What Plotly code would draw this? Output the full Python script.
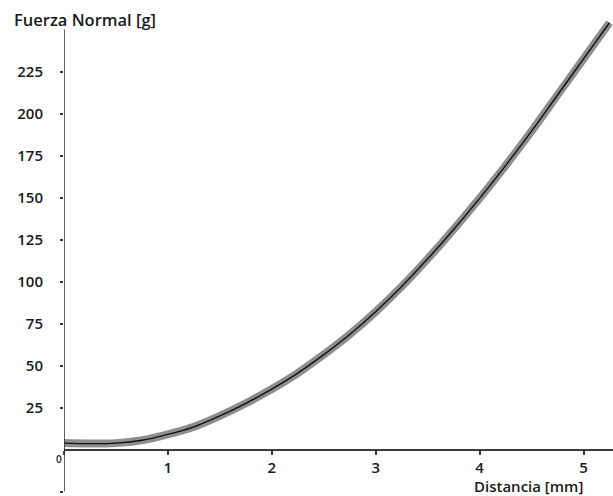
import plotly.graph_objects as go

# Data (Distancia [mm] vs Fuerza Normal [g])
distancia_mm = [0.0, 0.25, 0.5, 0.75, 1.0, 1.25, 1.5, 1.75, 2.0, 2.25, 2.5, 2.75,
                3.0, 3.25, 3.5, 3.75, 4.0, 4.25, 4.5, 4.75, 5.0, 5.25]
fuerza_g = [3.8, 3.5, 3.8, 5.5, 9.0, 13.5, 20.0, 27.5, 36.0, 45.5, 56.5, 68.5,
            82.0, 97.0, 113.5, 131.0, 149.5, 169.0, 189.5, 211.0, 232.5, 254.0]

x_ticks = [0, 1, 2, 3, 4, 5]
x_ticktext = ["", "1", "2", "3", "4", "5"]
y_ticks = [-25, 25, 50, 75, 100, 125, 150, 175, 200, 225]
y_ticktext = ["", "25", "50", "75", "100", "125", "150", "175", "200", "225"]

W, H = 613, 496
x0_px = 64.0
px_per_x = 103.9
y0_px = 449.5
px_per_y = 1.68

x_range = [0, (W - x0_px) / px_per_x]
y_range = [-(H - y0_px) / px_per_y, y0_px / px_per_y]

font_family = "Open Sans, Noto Sans, DejaVu Sans, sans-serif"
txt_color = "#1a1a1a"

fig = go.Figure()
fig.add_trace(go.Scatter(x=distancia_mm, y=fuerza_g, mode="lines",
                         line=dict(color="#8e8e8e", width=8, shape="spline"),
                         hoverinfo="skip", showlegend=False))
fig.add_trace(go.Scatter(x=distancia_mm, y=fuerza_g, mode="lines",
                         line=dict(color="#111111", width=1.4, shape="spline"),
                         showlegend=False))

fig.update_layout(
    width=W, height=H,
    margin=dict(l=0, r=0, t=0, b=0),
    paper_bgcolor="white", plot_bgcolor="white",
    font=dict(family=font_family, size=15, color=txt_color, weight=600),
    xaxis=dict(domain=[x0_px / W, 1], range=x_range, anchor="free",
               position=(H - y0_px) / H,
               showline=True, linecolor="#3a3a3a", linewidth=2,
               showgrid=False, zeroline=False,
               tickvals=x_ticks, ticktext=x_ticktext,
               ticks="outside", ticklen=4, tickwidth=1.5, tickcolor="#3a3a3a",
               ticklabelstandoff=0),
    yaxis=dict(domain=[0, 1], range=y_range, anchor="x",
               showline=False, showgrid=False, zeroline=False,
               tickvals=y_ticks, ticktext=y_ticktext,
               ticks="outside", ticklen=3, tickwidth=1.5, tickcolor="#3a3a3a",
               ticklabelstandoff=14),
    shapes=[dict(type="line", xref="x", yref="y", x0=0, x1=0, y0=-25, y1=250,
                 line=dict(color="#2a2a2a", width=1.5))],
    annotations=[
        dict(text="Fuerza Normal [g]", xref="paper", yref="paper",
             x=12 / W, y=1 - 20 / H, xanchor="left", yanchor="middle",
             showarrow=False, font=dict(size=16.5, color=txt_color, weight=600)),
        dict(text="Distancia [mm]", xref="paper", yref="paper",
             x=585 / W, y=1 - 486 / H, xanchor="right", yanchor="middle",
             showarrow=False, font=dict(size=15, color=txt_color, weight=600)),
        dict(text="0", xref="paper", yref="paper",
             x=59 / W, y=1 - 459 / H, xanchor="center", yanchor="middle",
             showarrow=False, font=dict(size=10, color=txt_color, weight=600)),
    ],
)

fig.write_html("out.html")
